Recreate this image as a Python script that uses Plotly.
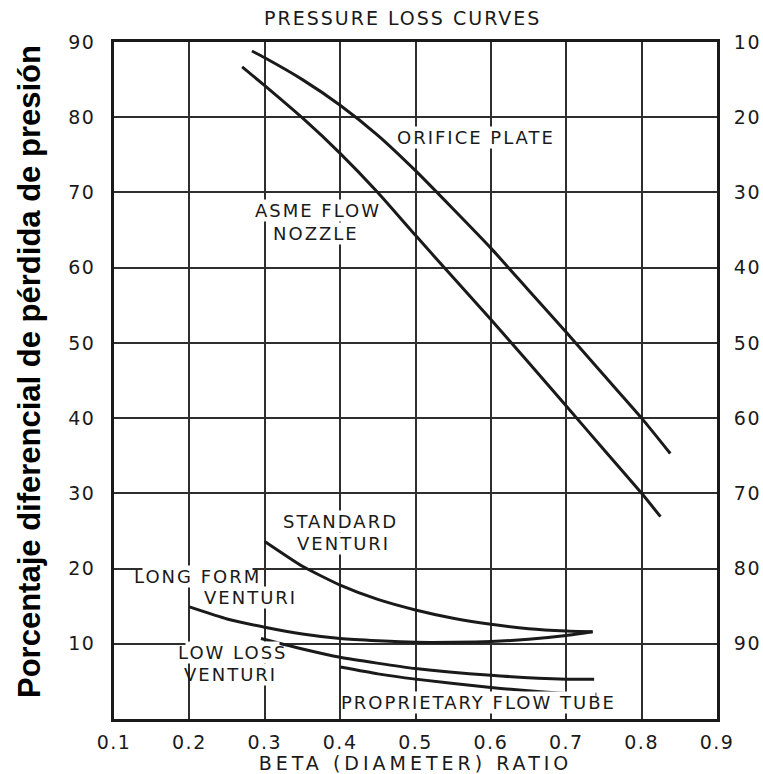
import plotly.graph_objects as go

# ---- data ----
beta_orifice = [0.283, 0.30, 0.35, 0.40, 0.45, 0.50, 0.55, 0.60, 0.65, 0.70, 0.75, 0.80, 0.838]
loss_orifice = [88.8, 87.9, 85.0, 81.6, 77.6, 72.9, 67.8, 62.6, 57.0, 51.4, 45.7, 40.0, 35.3]

beta_nozzle = [0.270, 0.30, 0.35, 0.40, 0.45, 0.50, 0.55, 0.60, 0.65, 0.70, 0.75, 0.80, 0.825]
loss_nozzle = [86.7, 84.2, 79.9, 75.2, 70.0, 64.3, 58.7, 53.1, 47.4, 41.6, 35.8, 30.0, 26.9]

beta_std_venturi = [0.30, 0.35, 0.40, 0.45, 0.50, 0.55, 0.60, 0.65, 0.70, 0.735]
loss_std_venturi = [23.6, 20.3, 17.8, 15.9, 14.5, 13.4, 12.6, 12.0, 11.7, 11.6]

beta_long_venturi = [0.20, 0.25, 0.30, 0.35, 0.40, 0.45, 0.50, 0.55, 0.60, 0.65, 0.70, 0.735]
loss_long_venturi = [14.9, 13.3, 12.2, 11.3, 10.7, 10.4, 10.2, 10.2, 10.3, 10.6, 11.1, 11.6]

beta_lowloss_venturi = [0.295, 0.35, 0.40, 0.50, 0.60, 0.70, 0.737]
loss_lowloss_venturi = [10.7, 9.3, 8.2, 6.7, 5.8, 5.3, 5.3]

beta_flow_tube = [0.40, 0.45, 0.50, 0.60, 0.70, 0.74]
loss_flow_tube = [6.9, 6.0, 5.3, 4.2, 3.4, 3.3]

x_ticks = [0.1, 0.2, 0.3, 0.4, 0.5, 0.6, 0.7, 0.8, 0.9]
x_tick_labels = ["0.1", "0.2", "0.3", "0.4", "0.5", "0.6", "0.7", "0.8", "0.9"]
left_ticks = [10, 20, 30, 40, 50, 60, 70, 80, 90]
right_ticks = [10, 20, 30, 40, 50, 60, 70, 80, 90]

INK = "#1a1a1a"
GRID = "#2e2e2e"
FONT = "DejaVu Sans"

fig = go.Figure()
series = [
    (beta_orifice, loss_orifice),
    (beta_nozzle, loss_nozzle),
    (beta_std_venturi, loss_std_venturi),
    (beta_long_venturi, loss_long_venturi),
    (beta_lowloss_venturi, loss_lowloss_venturi),
    (beta_flow_tube, loss_flow_tube),
]
for bx, by in series:
    fig.add_trace(go.Scatter(x=bx, y=by, mode="lines",
                             line=dict(color=INK, width=3, shape="spline", smoothing=0.5),
                             showlegend=False, hoverinfo="skip"))

# invisible trace for right axis
fig.add_trace(go.Scatter(x=[None], y=[None], yaxis="y2", showlegend=False))

fig.update_layout(
    width=763, height=774,
    margin=dict(l=114, r=46, t=42, b=55),
    paper_bgcolor="white", plot_bgcolor="white",
    font=dict(family=FONT, color=INK, size=19),
    xaxis=dict(range=[0.1, 0.9], tickvals=x_ticks, ticktext=x_tick_labels,
               showgrid=True, gridcolor=GRID, gridwidth=1.5,
               showline=True, linecolor=INK, linewidth=2.5, mirror=True,
               ticks="outside", ticklen=4, tickcolor="rgba(0,0,0,0)",
               tickfont=dict(size=19, family=FONT, color=INK),
               title=dict(text="BETA (DIAMETER) RATIO", standoff=5,
                          font=dict(size=19, family=FONT, color=INK)),
               zeroline=False, automargin=False),
    yaxis=dict(range=[0, 90], tickvals=left_ticks,
               showgrid=True, gridcolor=GRID, gridwidth=1.5,
               showline=True, linecolor=INK, linewidth=2.5, mirror=True,
               ticks="outside", ticklen=12, tickcolor="rgba(0,0,0,0)",
               tickfont=dict(size=19, family=FONT, color=INK),
               zeroline=False, automargin=False),
    yaxis2=dict(range=[100, 10], overlaying="y", side="right",
                tickvals=right_ticks, showgrid=False, zeroline=False,
                ticks="outside", ticklen=12, tickcolor="rgba(0,0,0,0)",
                tickfont=dict(size=19, family=FONT, color=INK), automargin=False),
)

def label(text, x, y, size=18):
    fig.add_annotation(x=x, y=y, xref="x", yref="y", text=text, showarrow=False,
                       xanchor="center", yanchor="middle", bgcolor="white",
                       borderpad=0, font=dict(size=size, family=FONT, color=INK))

label("ORIFICE PLATE", 0.580, 77.3)
label("ASME FLOW", 0.371, 67.6)
label("NOZZLE", 0.368, 64.6)
label("STANDARD", 0.400, 26.3)
label("VENTURI", 0.404, 23.3)
label("LONG FORM", 0.211, 19.0)
label("VENTURI", 0.281, 16.1)
label("LOW LOSS", 0.257, 8.8)
label("VENTURI", 0.254, 5.9)
label("PROPRIETARY FLOW TUBE", 0.584, 2.2)

fig.add_annotation(x=0.478, y=1.0, xref="paper", yref="paper", yshift=24,
                   yanchor="middle",
                   text="PRESSURE LOSS CURVES", showarrow=False,
                   font=dict(size=19, family=FONT, color=INK))

fig.add_annotation(x=-0.141, y=0.514, xref="paper", yref="paper",
                   xanchor="center", yanchor="middle",
                   text="<b>Porcentaje diferencial de pérdida de presión</b>",
                   textangle=-90, showarrow=False,
                   font=dict(size=31, family="Liberation Sans, Arial", color="black"))

# widen the hand-lettered texts a little with letter spacing (as on the drafted original)
post = """
var gd = document.getElementById('{plot_id}');
function spacing() {
  gd.querySelectorAll('.annotation-text').forEach(function(t){
    if (t.textContent.indexOf('Porcentaje') < 0) { t.style.letterSpacing = '2px'; }
  });
  gd.querySelectorAll('.xtick text, .ytick text, .y2tick text').forEach(function(t){
    t.style.letterSpacing = '1.5px';
  });
  gd.querySelectorAll('.xtitle').forEach(function(t){ t.style.letterSpacing = '4px'; });
}
spacing();
"""

fig.write_html("out.html", post_script=post)
